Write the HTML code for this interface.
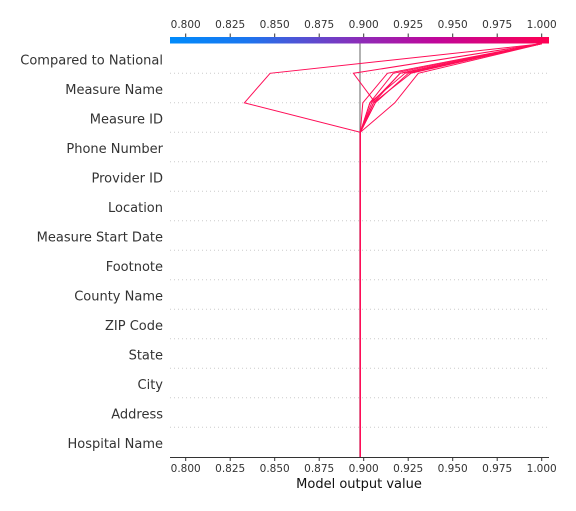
<!DOCTYPE html>
<html><head><meta charset="utf-8">
<style>
html,body{margin:0;padding:0;background:#fff;}
svg{display:block;font-family:"DejaVu Sans","Liberation Sans",sans-serif;}
</style></head>
<body>
<svg id="chart" width="576" height="511" viewBox="0 0 576 511">
<defs>
<linearGradient id="cb" x1="0" x2="1" y1="0" y2="0">
<stop offset="0" stop-color="#008bfb"/>
<stop offset="0.2" stop-color="#1a76ef"/>
<stop offset="0.5" stop-color="#8c2cb8"/>
<stop offset="0.7" stop-color="#c0069a"/>
<stop offset="1" stop-color="#ff0052"/>
</linearGradient>
</defs>
<g id="grid"></g>
<rect x="170" y="37" width="379" height="6.5" fill="url(#cb)"/>
<line x1="360" y1="43.5" x2="360" y2="457" stroke="#999" stroke-width="1.5"/>
<g id="lines"></g>
<g id="axes"></g>
<text x="359" y="488" text-anchor="middle" font-size="13" fill="#111">Model output value</text>
</svg>
<script>
const features = ["Compared to National","Measure Name","Measure ID","Phone Number","Provider ID","Location","Measure Start Date","Footnote","County Name","ZIP Code","State","City","Address","Hospital Name"];
const ticks = [0.800,0.825,0.850,0.875,0.900,0.925,0.950,0.975,1.000];
const baseValue = 0.8981;
const finalValues = [1.000,0.999,0.999,1.000,1.000,0.999,1.000,1.000,1.000,0.999];
const afterMeasureName = [0.8474,0.8942,0.9133,0.9166,0.9204,0.9232,0.9251,0.9307,0.9205,0.9265];
const afterMeasureId = [0.833,0.9065,0.8995,0.9035,0.9055,0.9035,0.9065,0.9175,0.9045,0.9055];
const afterPhone = [0.8981,0.8981,0.8981,0.8981,0.8981,0.8981,0.8981,0.8981,0.8981,0.8981];

const NS="http://www.w3.org/2000/svg";
const xs = v => 185.7 + (v-0.8)*1780;
const yk = k => 43.8 + k*29.5;
function mk(tag, attrs, parent){const e=document.createElementNS(NS,tag);for(const k in attrs)e.setAttribute(k,attrs[k]);parent.appendChild(e);return e;}
const grid=document.getElementById('grid'), axes=document.getElementById('axes'), lines=document.getElementById('lines');

features.forEach((f,i)=>{
  if(i<13){
    const g=mk('line',{x1:170,x2:549,y1:yk(i+1),y2:yk(i+1),stroke:'#ccc','stroke-width':1,'stroke-dasharray':'1,3'},grid);
    
    
  }
  const t=mk('text',{x:163,y:yk(i)+20.5,'text-anchor':'end','font-size':13,fill:'#333'},axes);
  t.textContent=f;
  
  
});

const ax=mk('line',{x1:170,x2:549,y1:457.5,y2:457.5,stroke:'#333','stroke-width':1},axes);


ticks.forEach(v=>{
  const x=xs(v);
  const tm=mk('line',{x1:x,x2:x,y1:457.5,y2:461,stroke:'#333'},axes);
  
  
  const tl=mk('text',{x:x,y:472,'text-anchor':'middle','font-size':10.5,fill:'#333'},axes);
  tl.textContent=v.toFixed(3);
  
  
  const tt=mk('line',{x1:x,x2:x,y1:33.5,y2:37,stroke:'#333'},axes);
  
  
  const tl2=mk('text',{x:x,y:28,'text-anchor':'middle','font-size':10.5,fill:'#333'},axes);
  tl2.textContent=v.toFixed(3);
  
  
});

finalValues.forEach((fv,s)=>{
  const vals=[fv,afterMeasureName[s],afterMeasureId[s],afterPhone[s]];
  for(let k=4;k<=14;k++) vals.push(baseValue);
  const pts=vals.map((v,k)=>xs(v).toFixed(1)+','+yk(k).toFixed(1)).join(' ');
  const p=mk('polyline',{points:pts,fill:'none',stroke:'#ff0d57','stroke-width':1},lines);
  
  
});
</script>
</body></html>
